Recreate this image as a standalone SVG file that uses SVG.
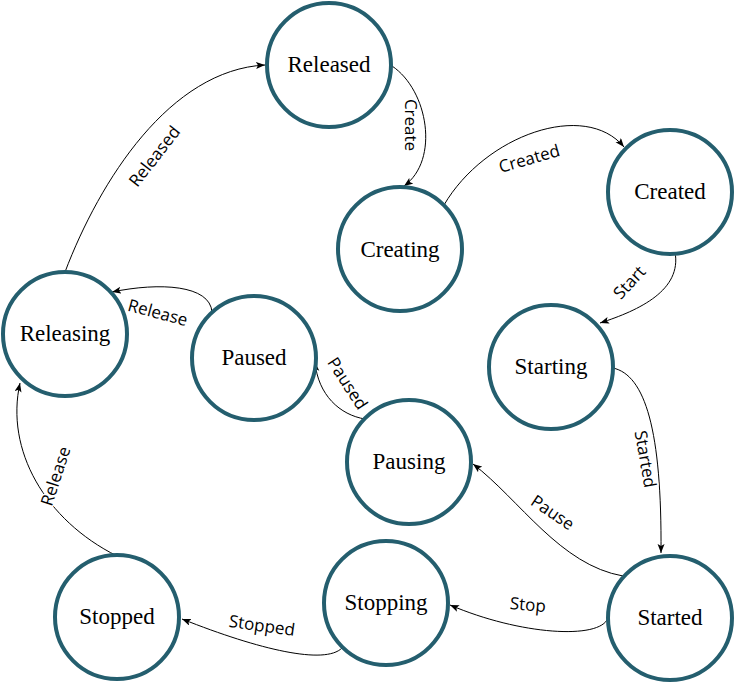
<svg xmlns="http://www.w3.org/2000/svg" width="735" height="683" viewBox="0 0 735 683">
<style>
.node circle{fill:#fff;stroke:#245E6E;stroke-width:4}
.node text{font-family:"Liberation Serif","Times New Roman",serif;font-size:23px;fill:#000;text-anchor:middle}
.edge{fill:none;stroke:#000;stroke-width:1;marker-end:url(#arr)}
.lbl{font-family:"Open Sans","Liberation Sans",sans-serif;font-size:17px;fill:#000;text-anchor:middle;dominant-baseline:central;stroke:#fff;stroke-width:3;paint-order:stroke;stroke-linejoin:round}
</style>
<defs>
<marker id="arr" markerUnits="userSpaceOnUse" markerWidth="10" markerHeight="8" refX="9" refY="3.5" orient="auto">
<path d="M0,0 L9,3.5 L0,7 L2,3.5 z" fill="#000"/>
</marker>
</defs>
<rect width="735" height="683" fill="#fff"/>
<g id="connectors">
<path class="edge" d="M392,66 C428,90 440,160 404,186"/>
<path class="edge" d="M444,205 C485,135 585,100 624,147"/>
<path class="edge" d="M675,252 C682,290 640,310 600,323"/>
<path class="edge" d="M613,368 C645,375 662,430 661,553"/>
<path class="edge" d="M623,576 C560,565 520,500 473,464"/>
<path class="edge" d="M608,618 C600,640 520,635 450,605"/>
<path class="edge" d="M342,648 C325,665 260,650 182,619"/>
<path class="edge" d="M117,556 C45,520 5,450 20,383"/>
<path class="edge" d="M212,312 C210,285 160,282 112,292"/>
<path class="edge" d="M65,272 C100,180 170,70 265,65"/>
<path class="edge" d="M365,419 C340,415 318,395 315,362"/>
<text class="lbl" transform="translate(411,125) rotate(90)">Create</text>
<text class="lbl" transform="translate(529,158) rotate(-16)">Created</text>
<text class="lbl" transform="translate(629,282) rotate(-47)">Start</text>
<text class="lbl" transform="translate(646,459) rotate(80)">Started</text>
<text class="lbl" transform="translate(553,512) rotate(34)">Pause</text>
<text class="lbl" transform="translate(528,604) rotate(5)">Stop</text>
<text class="lbl" transform="translate(262,625) rotate(8)">Stopped</text>
<text class="lbl" transform="translate(55,476) rotate(-72)">Release</text>
<text class="lbl" transform="translate(158,312) rotate(15)">Release</text>
<text class="lbl" transform="translate(154,156) rotate(-52)">Released</text>
<text class="lbl" transform="translate(348,383) rotate(57)">Paused</text>
</g>
<g id="released" class="node"><circle cx="329" cy="65" r="62"/><text x="329" y="72">Released</text></g>
<g id="creating" class="node"><circle cx="400" cy="249" r="62"/><text x="400" y="257">Creating</text></g>
<g id="created" class="node"><circle cx="670" cy="192" r="62"/><text x="670" y="199">Created</text></g>
<g id="starting" class="node"><circle cx="551" cy="367" r="62"/><text x="551" y="374">Starting</text></g>
<g id="started" class="node"><circle cx="670" cy="618" r="62"/><text x="670" y="625">Started</text></g>
<g id="pausing" class="node"><circle cx="409" cy="462" r="62"/><text x="409" y="469">Pausing</text></g>
<g id="paused" class="node"><circle cx="254" cy="358" r="62"/><text x="254" y="365">Paused</text></g>
<g id="releasing" class="node"><circle cx="65" cy="334" r="62"/><text x="65" y="341">Releasing</text></g>
<g id="stopping" class="node"><circle cx="386" cy="603" r="62"/><text x="386" y="610">Stopping</text></g>
<g id="stopped" class="node"><circle cx="117" cy="617" r="62"/><text x="117" y="624">Stopped</text></g>
</svg>
